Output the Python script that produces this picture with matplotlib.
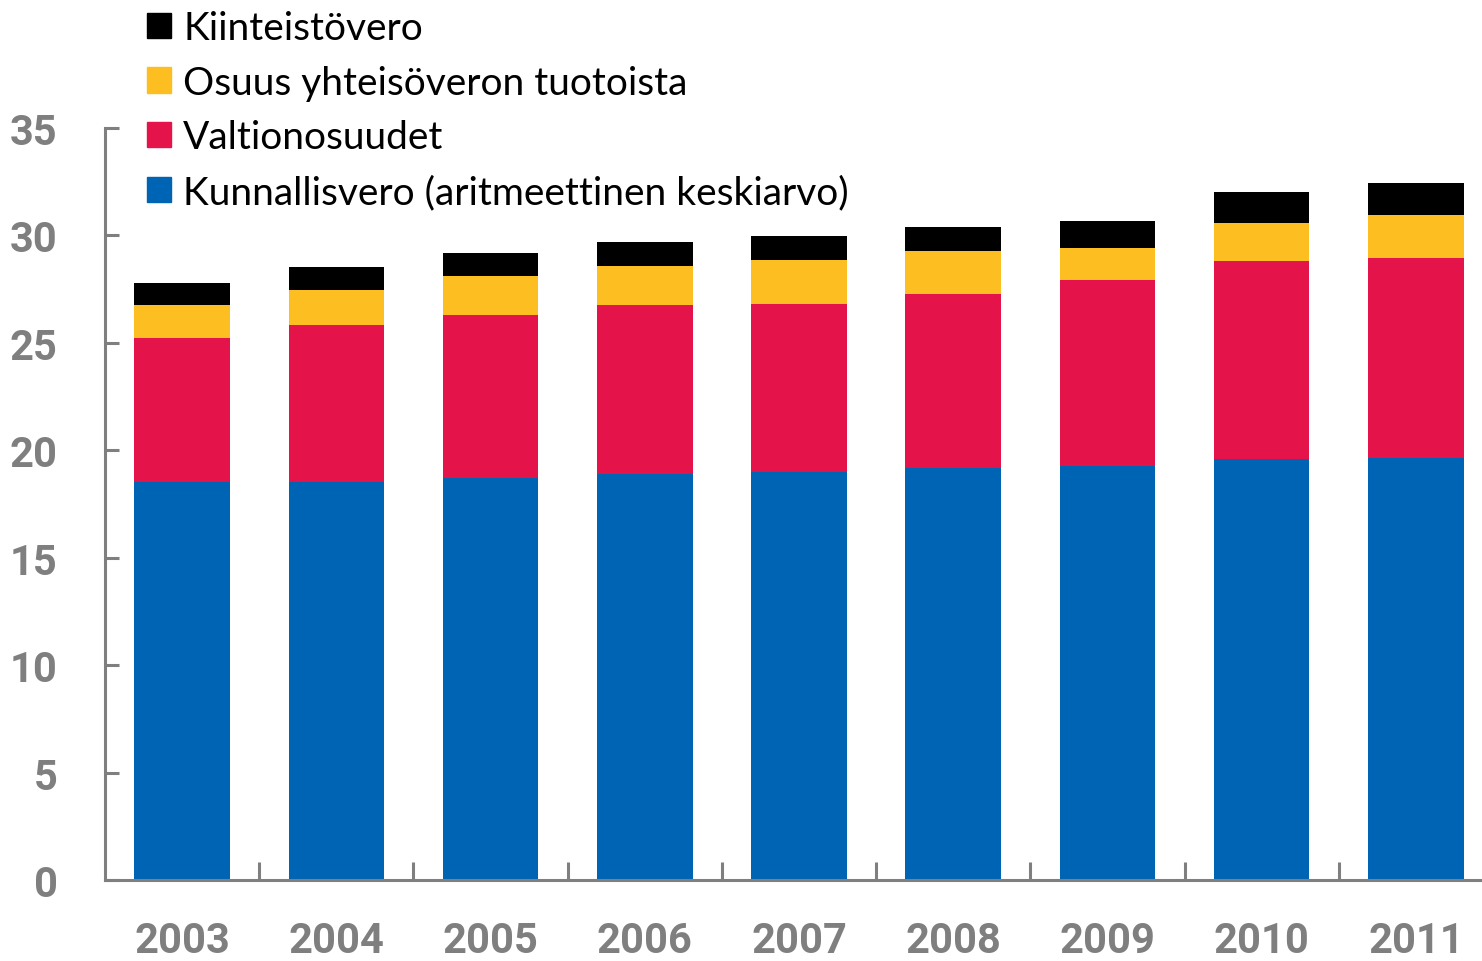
import matplotlib
matplotlib.use("Agg")
import matplotlib.pyplot as plt
from matplotlib.patches import Patch
import numpy as np

plt.rcParams['font.family'] = ['Lato', 'DejaVu Sans']

# Data
years = ['2003', '2004', '2005', '2006', '2007', '2008', '2009', '2010', '2011']
kunnallisvero = [18.52, 18.53, 18.72, 18.90, 18.99, 19.18, 19.29, 19.59, 19.63]
valtionosuudet = [6.69, 7.31, 7.58, 7.87, 7.83, 8.10, 8.64, 9.24, 9.31]
yhteisovero = [1.54, 1.63, 1.82, 1.81, 2.04, 2.00, 1.49, 1.77, 2.02]
kiinteistovero = [1.04, 1.07, 1.07, 1.12, 1.12, 1.12, 1.25, 1.44, 1.46]

series = [
    ('Kunnallisvero (aritmeettinen keskiarvo)', kunnallisvero, '#0064B4'),
    ('Valtionosuudet', valtionosuudet, '#E4144A'),
    ('Osuus yhteisöveron tuotoista', yhteisovero, '#FDBE22'),
    ('Kiinteistövero', kiinteistovero, '#000000'),
]

grey = '#7F7F7F'
W, H = 1482, 962
fig = plt.figure(figsize=(W / 100, H / 100), dpi=100)
# axes runs slightly past the right edge, like the original
ax = fig.add_axes([105 / W, (H - 881) / H, 1388 / W, (881 - 129) / H])

x = np.arange(len(years))
bottom = np.zeros(len(years))
for name, vals, col in series:
    ax.bar(x, vals, width=0.62, bottom=bottom, color=col, label=name, zorder=2)
    bottom += np.array(vals)

ax.set_xlim(-0.5, len(years) - 0.5)
ax.set_ylim(0, 35)
ax.set_yticks(range(0, 36, 5))

for s in ['top', 'right']:
    ax.spines[s].set_visible(False)
for s in ['left', 'bottom']:
    ax.spines[s].set_color(grey)
    ax.spines[s].set_linewidth(2.2)

ax.tick_params(axis='y', direction='in', length=10, width=2.2, color=grey,
               labelsize=30, labelcolor=grey, pad=34)
ax.set_xticks(x)
ax.set_xticklabels(years)
ax.set_xticks(x[:-1] + 0.5, minor=True)
ax.tick_params(axis='x', which='major', length=0, labelsize=30, labelcolor=grey, pad=29)
ax.tick_params(axis='x', which='minor', direction='in', length=13, width=2.2, color=grey)
for lab in ax.get_xticklabels() + ax.get_yticklabels():
    lab.set_fontfamily(['Roboto', 'DejaVu Sans'])
    lab.set_fontweight('bold')

handles = [Patch(color=c, label=n) for n, v, c in series][::-1]
fig.legend(handles=handles, loc='upper left', bbox_to_anchor=(147 / W, 1 - 11 / H),
           frameon=False, fontsize=28, handlelength=0.62, handleheight=0.62,
           handletextpad=0.31, labelspacing=0.48, borderaxespad=0, borderpad=0)

fig.savefig('out.png', dpi=100)
